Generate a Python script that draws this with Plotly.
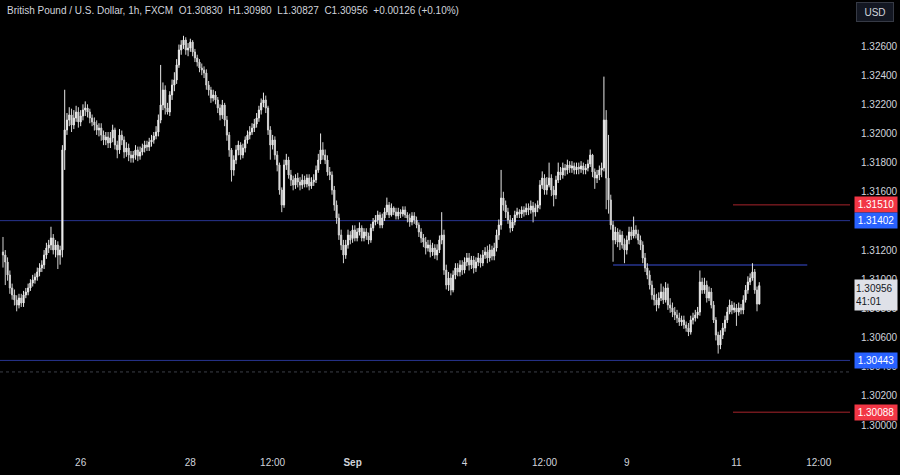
import plotly.graph_objects as go

# ---------------- data (GBP/USD, 1h, FXCM) ----------------
opens = [
1.31187,1.31166,1.31118,1.31029,1.30940,1.30892,1.30858,1.30823,1.30871,1.30837,
1.30892,1.30912,1.30940,1.30974,1.30995,1.31015,1.31050,1.31077,1.31098,1.31166,
1.31214,1.31235,1.31283,1.31201,1.31235,1.31166,1.31201,1.31887,1.32024,1.32092,
1.32127,1.32058,1.32106,1.32147,1.32079,1.32120,1.32161,1.32175,1.32147,1.32106,
1.32079,1.32058,1.32024,1.32037,1.31989,1.31955,1.31976,1.31935,1.31969,1.32024,
1.31921,1.31887,1.31989,1.31955,1.31873,1.31900,1.31852,1.31832,1.31852,1.31887,
1.31845,1.31873,1.31900,1.31921,1.31907,1.31941,1.31955,1.31983,1.32010,1.32092,
1.32195,1.32298,1.32175,1.32147,1.32264,1.32332,1.32367,1.32470,1.32573,1.32607,
1.32641,1.32573,1.32586,1.32627,1.32559,1.32518,1.32490,1.32449,1.32435,1.32415,
1.32332,1.32298,1.32243,1.32264,1.32230,1.32175,1.32127,1.32195,1.32092,1.31989,
1.31887,1.31749,1.31818,1.31887,1.31921,1.31852,1.31900,1.31955,1.31989,1.32010,
1.32037,1.32065,1.32106,1.32161,1.32209,1.32230,1.32175,1.32024,1.31921,1.31955,
1.31852,1.31784,1.31612,1.31509,1.31784,1.31818,1.31715,1.31681,1.31646,1.31694,
1.31667,1.31646,1.31681,1.31653,1.31694,1.31640,1.31667,1.31681,1.31749,1.31818,
1.31887,1.31852,1.31818,1.31736,1.31715,1.31612,1.31509,1.31420,1.31303,1.31235,
1.31166,1.31235,1.31303,1.31280,1.31338,1.31283,1.31324,1.31351,1.31283,1.31324,
1.31297,1.31269,1.31351,1.31393,1.31406,1.31441,1.31372,1.31420,1.31461,1.31509,
1.31441,1.31489,1.31461,1.31434,1.31461,1.31448,1.31475,1.31441,1.31420,1.31393,
1.31434,1.31406,1.31372,1.31324,1.31283,1.31255,1.31214,1.31235,1.31187,1.31214,
1.31166,1.31201,1.31269,1.31303,1.31063,1.30960,1.31008,1.30926,1.31029,1.31077,
1.31050,1.31098,1.31063,1.31118,1.31146,1.31098,1.31132,1.31077,1.31118,1.31146,
1.31111,1.31166,1.31187,1.31146,1.31201,1.31159,1.31214,1.31303,1.31372,1.31557,
1.31509,1.31461,1.31406,1.31351,1.31393,1.31441,1.31461,1.31448,1.31475,1.31461,
1.31489,1.31475,1.31502,1.31461,1.31489,1.31509,1.31646,1.31694,1.31612,1.31646,
1.31694,1.31612,1.31578,1.31681,1.31736,1.31715,1.31763,1.31749,1.31784,1.31763,
1.31777,1.31749,1.31770,1.31756,1.31777,1.31749,1.31763,1.31791,1.31852,1.31736,
1.31694,1.31715,1.31749,1.31763,1.32092,1.31694,1.31544,1.31372,1.31269,1.31324,
1.31255,1.31303,1.31240,1.31201,1.31269,1.31324,1.31297,1.31338,1.31310,1.31269,
1.31235,1.31146,1.31077,1.31029,1.30960,1.30892,1.30858,1.30823,1.30871,1.30912,
1.30858,1.30940,1.30823,1.30803,1.30775,1.30755,1.30734,1.30707,1.30720,1.30686,
1.30665,1.30638,1.30720,1.30734,1.30755,1.30775,1.30981,1.30926,1.30960,1.30871,
1.30912,1.30823,1.30720,1.30617,1.30549,1.30617,1.30665,1.30720,1.30775,1.30823,
1.30789,1.30803,1.30775,1.30803,1.30789,1.30858,1.30926,1.30981,1.31008,1.31050,
1.30926,1.30830,
]
highs = [
1.3129,1.3120,1.3115,1.3106,1.3097,1.3093,1.3089,1.3090,1.3090,1.3092,
1.3094,1.3097,1.3100,1.3103,1.3104,1.3108,1.3111,1.3113,1.3120,1.3125,
1.3127,1.3136,1.3131,1.3127,1.3126,1.3123,1.3192,1.3230,1.3214,1.3218,
1.3217,1.3216,1.3219,1.3218,1.3216,1.3220,1.3222,1.3220,1.3217,1.3213,
1.3211,1.3209,1.3207,1.3207,1.3202,1.3201,1.3201,1.3201,1.3206,1.3204,
1.3195,1.3203,1.3202,1.3198,1.3194,1.3193,1.3188,1.3188,1.3192,1.3191,
1.3191,1.3193,1.3195,1.3195,1.3197,1.3199,1.3201,1.3205,1.3213,1.3247,
1.3235,1.3233,1.3221,1.3229,1.3237,1.3242,1.3251,1.3261,1.3264,1.3267,
1.3266,1.3262,1.3265,1.3264,1.3258,1.3254,1.3251,1.3248,1.3246,1.3244,
1.3236,1.3232,1.3230,1.3229,1.3225,1.3220,1.3223,1.3221,1.3212,1.3201,
1.3190,1.3185,1.3192,1.3195,1.3194,1.3193,1.3198,1.3202,1.3205,1.3207,
1.3210,1.3214,1.3219,1.3224,1.3228,1.3226,1.3219,1.3205,1.3199,1.3198,
1.3188,1.3180,1.3163,1.3182,1.3186,1.3184,1.3175,1.3171,1.3172,1.3173,
1.3170,1.3172,1.3171,1.3172,1.3172,1.3170,1.3172,1.3178,1.3186,1.3200,
1.3194,1.3189,1.3185,1.3177,1.3174,1.3164,1.3154,1.3145,1.3134,1.3127,
1.3127,1.3134,1.3133,1.3137,1.3137,1.3135,1.3139,1.3137,1.3135,1.3135,
1.3132,1.3138,1.3142,1.3144,1.3147,1.3146,1.3145,1.3149,1.3156,1.3153,
1.3152,1.3150,1.3149,1.3149,1.3148,1.3150,1.3150,1.3146,1.3145,1.3146,
1.3146,1.3143,1.3139,1.3135,1.3131,1.3129,1.3127,1.3127,1.3125,1.3124,
1.3124,1.3130,1.3146,1.3134,1.3110,1.3105,1.3104,1.3106,1.3111,1.3111,
1.3113,1.3113,1.3115,1.3118,1.3118,1.3116,1.3116,1.3115,1.3118,1.3117,
1.3120,1.3122,1.3123,1.3124,1.3123,1.3125,1.3134,1.3141,1.3175,1.3160,
1.3154,1.3149,1.3144,1.3142,1.3147,1.3149,1.3148,1.3150,1.3150,1.3152,
1.3152,1.3154,1.3153,1.3152,1.3154,1.3168,1.3174,1.3172,1.3170,1.3180,
1.3172,1.3164,1.3171,1.3180,1.3177,1.3180,1.3179,1.3182,1.3181,1.3181,
1.3180,1.3180,1.3180,1.3181,1.3180,1.3179,1.3182,1.3189,1.3186,1.3176,
1.3175,1.3178,1.3180,1.3239,1.3216,1.3199,1.3158,1.3140,1.3136,1.3135,
1.3134,1.3133,1.3128,1.3130,1.3136,1.3136,1.3143,1.3137,1.3134,1.3130,
1.3126,1.3118,1.3111,1.3106,1.3099,1.3094,1.3090,1.3091,1.3097,1.3095,
1.3098,1.3097,1.3087,1.3084,1.3081,1.3079,1.3077,1.3075,1.3075,1.3071,
1.3070,1.3075,1.3077,1.3079,1.3081,1.3106,1.3101,1.3101,1.3099,1.3095,
1.3094,1.3085,1.3074,1.3064,1.3065,1.3070,1.3075,1.3081,1.3086,1.3085,
1.3084,1.3083,1.3084,1.3083,1.3089,1.3096,1.3102,1.3104,1.3111,1.3107,
1.3095,1.30980,
]
lows = [
1.3108,1.3096,1.3099,1.3090,1.3086,1.3082,1.3078,1.3080,1.3081,1.3081,
1.3087,1.3089,1.3092,1.3095,1.3097,1.3099,1.3102,1.3105,1.3107,1.3114,
1.3118,1.3120,1.3117,1.3115,1.3107,1.3110,1.3115,1.3175,1.3199,1.3205,
1.3201,1.3203,1.3208,1.3204,1.3205,1.3209,1.3212,1.3211,1.3207,1.3205,
1.3202,1.3199,1.3198,1.3195,1.3192,1.3192,1.3190,1.3190,1.3194,1.3189,
1.3183,1.3186,1.3192,1.3183,1.3184,1.3181,1.3180,1.3180,1.3182,1.3181,
1.3182,1.3185,1.3187,1.3188,1.3188,1.3191,1.3193,1.3196,1.3198,1.3207,
1.3216,1.3213,1.3213,1.3212,1.3223,1.3229,1.3234,1.3245,1.3254,1.3258,
1.3254,1.3253,1.3256,1.3253,1.3249,1.3246,1.3242,1.3240,1.3238,1.3230,
1.3226,1.3221,1.3222,1.3220,1.3214,1.3209,1.3210,1.3205,1.3195,1.3184,
1.3167,1.3171,1.3179,1.3185,1.3182,1.3183,1.3187,1.3193,1.3196,1.3199,
1.3201,1.3204,1.3208,1.3213,1.3218,1.3214,1.3199,1.3182,1.3189,1.3182,
1.3174,1.3158,1.3146,1.3149,1.3175,1.3169,1.3164,1.3161,1.3162,1.3163,
1.3161,1.3162,1.3163,1.3163,1.3161,1.3162,1.3164,1.3166,1.3173,1.3179,
1.3182,1.3179,1.3171,1.3168,1.3158,1.3147,1.3138,1.3127,1.3120,1.3111,
1.3114,1.3121,1.3124,1.3125,1.3126,1.3126,1.3130,1.3126,1.3126,1.3127,
1.3124,1.3125,1.3133,1.3137,1.3138,1.3135,1.3135,1.3140,1.3144,1.3142,
1.3143,1.3144,1.3141,1.3141,1.3142,1.3143,1.3142,1.3139,1.3136,1.3137,
1.3138,1.3135,1.3129,1.3125,1.3122,1.3117,1.3119,1.3115,1.3116,1.3114,
1.3113,1.3118,1.3124,1.3103,1.3093,1.3092,1.3089,1.3091,1.3100,1.3102,
1.3102,1.3103,1.3104,1.3109,1.3106,1.3107,1.3104,1.3105,1.3109,1.3108,
1.3109,1.3114,1.3111,1.3112,1.3113,1.3113,1.3119,1.3127,1.3134,1.3147,
1.3142,1.3138,1.3132,1.3133,1.3137,1.3142,1.3142,1.3142,1.3143,1.3144,
1.3144,1.3145,1.3139,1.3143,1.3146,1.3148,1.3162,1.3158,1.3158,1.3163,
1.3157,1.3150,1.3155,1.3166,1.3168,1.3169,1.3171,1.3172,1.3173,1.3173,
1.3172,1.3172,1.3172,1.3173,1.3172,1.3172,1.3174,1.3177,1.3170,1.3162,
1.3166,1.3168,1.3170,1.3174,1.3148,1.3145,1.3134,1.3112,1.3124,1.3122,
1.3120,1.3121,1.3111,1.3117,1.3124,1.3127,1.3128,1.3128,1.3124,1.3120,
1.3111,1.3105,1.3100,1.3093,1.3086,1.3082,1.3078,1.3080,1.3085,1.3083,
1.3084,1.3079,1.3077,1.3074,1.3072,1.3070,1.3068,1.3068,1.3066,1.3064,
1.3061,1.3062,1.3069,1.3071,1.3073,1.3075,1.3090,1.3090,1.3084,1.3085,
1.3080,1.3070,1.3058,1.3049,1.3052,1.3059,1.3064,1.3070,1.3076,1.3076,
1.3077,1.3068,1.3075,1.3076,1.3076,1.3084,1.3090,1.3096,1.3099,1.3090,
1.3078,1.30827,
]
closes = [
1.31166,1.31118,1.31029,1.30940,1.30892,1.30858,1.30823,1.30871,1.30837,1.30892,
1.30912,1.30940,1.30974,1.30995,1.31015,1.31050,1.31077,1.31098,1.31166,1.31214,
1.31235,1.31283,1.31201,1.31235,1.31166,1.31201,1.31887,1.32024,1.32092,1.32127,
1.32058,1.32106,1.32147,1.32079,1.32120,1.32161,1.32175,1.32147,1.32106,1.32079,
1.32058,1.32024,1.32037,1.31989,1.31955,1.31976,1.31935,1.31969,1.32024,1.31921,
1.31887,1.31989,1.31955,1.31873,1.31900,1.31852,1.31832,1.31852,1.31887,1.31845,
1.31873,1.31900,1.31921,1.31907,1.31941,1.31955,1.31983,1.32010,1.32092,1.32195,
1.32298,1.32175,1.32147,1.32264,1.32332,1.32367,1.32470,1.32573,1.32607,1.32641,
1.32573,1.32586,1.32627,1.32559,1.32518,1.32490,1.32449,1.32435,1.32415,1.32332,
1.32298,1.32243,1.32264,1.32230,1.32175,1.32127,1.32195,1.32092,1.31989,1.31887,
1.31749,1.31818,1.31887,1.31921,1.31852,1.31900,1.31955,1.31989,1.32010,1.32037,
1.32065,1.32106,1.32161,1.32209,1.32230,1.32175,1.32024,1.31921,1.31955,1.31852,
1.31784,1.31612,1.31509,1.31784,1.31818,1.31715,1.31681,1.31646,1.31694,1.31667,
1.31646,1.31681,1.31653,1.31694,1.31640,1.31667,1.31681,1.31749,1.31818,1.31887,
1.31852,1.31818,1.31736,1.31715,1.31612,1.31509,1.31420,1.31303,1.31235,1.31166,
1.31235,1.31303,1.31269,1.31338,1.31283,1.31324,1.31351,1.31283,1.31324,1.31297,
1.31269,1.31351,1.31393,1.31406,1.31441,1.31372,1.31420,1.31461,1.31509,1.31441,
1.31489,1.31461,1.31434,1.31461,1.31448,1.31475,1.31441,1.31420,1.31393,1.31434,
1.31406,1.31372,1.31324,1.31283,1.31255,1.31214,1.31235,1.31187,1.31214,1.31166,
1.31201,1.31269,1.31303,1.31063,1.30960,1.31008,1.30926,1.31029,1.31077,1.31050,
1.31098,1.31063,1.31118,1.31146,1.31098,1.31132,1.31077,1.31118,1.31146,1.31111,
1.31166,1.31187,1.31146,1.31201,1.31159,1.31214,1.31303,1.31372,1.31557,1.31509,
1.31461,1.31406,1.31351,1.31393,1.31441,1.31461,1.31448,1.31475,1.31461,1.31489,
1.31475,1.31502,1.31461,1.31489,1.31509,1.31646,1.31694,1.31612,1.31646,1.31694,
1.31612,1.31578,1.31681,1.31736,1.31715,1.31763,1.31749,1.31784,1.31763,1.31777,
1.31749,1.31770,1.31756,1.31777,1.31749,1.31763,1.31791,1.31852,1.31736,1.31694,
1.31715,1.31749,1.31763,1.32092,1.31694,1.31544,1.31372,1.31269,1.31324,1.31255,
1.31303,1.31235,1.31201,1.31269,1.31324,1.31297,1.31338,1.31310,1.31269,1.31235,
1.31146,1.31077,1.31029,1.30960,1.30892,1.30858,1.30823,1.30871,1.30912,1.30858,
1.30940,1.30823,1.30803,1.30775,1.30755,1.30734,1.30707,1.30720,1.30686,1.30665,
1.30638,1.30720,1.30734,1.30755,1.30775,1.30981,1.30926,1.30960,1.30871,1.30912,
1.30823,1.30720,1.30617,1.30549,1.30617,1.30665,1.30720,1.30775,1.30823,1.30789,
1.30803,1.30775,1.30803,1.30789,1.30858,1.30926,1.30981,1.31008,1.31050,1.30926,
1.30830,1.30956,
]

# time-axis labels (bar index of each label) and texts
time_tick_bars = [34, 82, 118, 153, 202, 237, 273, 321, 357]
time_tick_text = ["26", "28", "12:00", "<b>Sep</b>", "4", "12:00", "9", "11", "12:00"]

# price-scale labels visible in the reference (1.31400 is hidden behind a tag)
price_ticks = [1.300, 1.302, 1.304, 1.306, 1.308, 1.310, 1.312, 1.316,
               1.318, 1.320, 1.322, 1.324, 1.326]

# horizontal levels drawn on the chart
support_resistance_full = [1.31402, 1.30443]
level_mid = 1.31098
level_mid_span = [267, 352]
red_levels = [1.31510, 1.30088]
red_levels_start = 319.5
dotted_level = 1.30364

title_text = ("British Pound / U.S. Dollar, 1h, FXCM  O1.30830  H1.30980  "
              "L1.30827  C1.30956  +0.00126 (+0.10%)")
last_price = 1.30956
countdown = "41:01"

bar_index = list(range(len(closes)))

FONT = "Liberation Sans, Arial, sans-serif"
TXT = "#d1d4dc"
BLUE_LINE = "#27348f"
RED_LINE = "#a8242c"

fig = go.Figure()
fig.add_trace(go.Candlestick(
    x=bar_index, open=opens, high=highs, low=lows, close=closes,
    increasing=dict(line=dict(color="#e8e8e8", width=1), fillcolor="#ffffff"),
    decreasing=dict(line=dict(color="#d0d0d0", width=1), fillcolor="#f0f0f0"),
    whiskerwidth=0, hoverinfo="skip", showlegend=False,
))

shapes = []
for lv in support_resistance_full:
    shapes.append(dict(type="line", xref="paper", x0=0, x1=1, yref="y", y0=lv, y1=lv,
                       line=dict(color=BLUE_LINE, width=1), layer="below"))
shapes.append(dict(type="line", xref="x", x0=level_mid_span[0], x1=level_mid_span[1],
                   yref="y", y0=level_mid, y1=level_mid,
                   line=dict(color=BLUE_LINE, width=1.5), layer="below"))
for lv in red_levels:
    shapes.append(dict(type="line", xref="x", x0=red_levels_start, x1=371, yref="y",
                       y0=lv, y1=lv, line=dict(color=RED_LINE, width=1), layer="below"))
shapes.append(dict(type="line", xref="paper", x0=0, x1=1, yref="y", y0=dotted_level,
                   y1=dotted_level, line=dict(color="#3c3f48", width=1, dash="dot"),
                   layer="below"))

annotations = [
    dict(xref="paper", yref="paper", x=0, y=1, xanchor="left", yanchor="top",
         xshift=5, yshift=-3, text=title_text, showarrow=False,
         font=dict(family=FONT, size=10, color=TXT)),
    dict(xref="paper", yref="paper", x=1, y=1, xanchor="left", yanchor="top",
         xshift=6, yshift=-2, text="USD", showarrow=False, width=34, height=16,
         bgcolor="#131722", bordercolor="#363a45", borderwidth=1,
         font=dict(family=FONT, size=10, color=TXT)),
]
labels = [
    (red_levels[0], "#f23645", "#ffffff", f"{red_levels[0]:.5f}"),
    (support_resistance_full[0], "#2962ff", "#ffffff", f"{support_resistance_full[0]:.5f}"),
    (support_resistance_full[1], "#2962ff", "#ffffff", f"{support_resistance_full[1]:.5f}"),
    (red_levels[1], "#f23645", "#ffffff", f"{red_levels[1]:.5f}"),
]
for lv, bg, fc, txt in labels:
    annotations.append(dict(xref="paper", yref="y", x=1, y=lv, xanchor="left",
                            yanchor="middle", xshift=4, text=txt, showarrow=False,
                            width=40, height=13, bgcolor=bg, borderpad=1,
                            font=dict(family=FONT, size=10, color=fc)))
annotations.append(dict(xref="paper", yref="y", x=1, y=last_price, xanchor="left",
                        yanchor="top", xshift=4, yshift=7,
                        text=f"{last_price:.5f}<br>{countdown}", align="left",
                        showarrow=False, width=40, height=28, bgcolor="#dfe1e8",
                        borderpad=1, font=dict(family=FONT, size=10, color="#131722")))

fig.update_layout(
    width=900, height=475,
    margin=dict(l=0, r=50, t=0, b=28),
    paper_bgcolor="#000000", plot_bgcolor="#000000",
    showlegend=False,
    shapes=shapes, annotations=annotations,
    xaxis=dict(range=[-1.31, 370.7], rangeslider=dict(visible=False),
               tickvals=time_tick_bars, ticktext=time_tick_text,
               showgrid=False, zeroline=False, showline=False,
               ticks="outside", ticklen=6, tickcolor="rgba(0,0,0,0)",
               tickfont=dict(family=FONT, size=10, color=TXT)),
    yaxis=dict(range=[1.298491, 1.329156], side="right",
               tickvals=price_ticks, ticktext=[f"{p:.5f}" for p in price_ticks],
               showgrid=False, zeroline=False, showline=False,
               ticks="outside", ticklen=8, tickcolor="rgba(0,0,0,0)",
               tickfont=dict(family=FONT, size=10, color=TXT)),
)

fig.write_html(
    "out.html",
    config={"displayModeBar": False},
    post_script="document.body.style.margin='0';document.body.style.background='#000';",
)
